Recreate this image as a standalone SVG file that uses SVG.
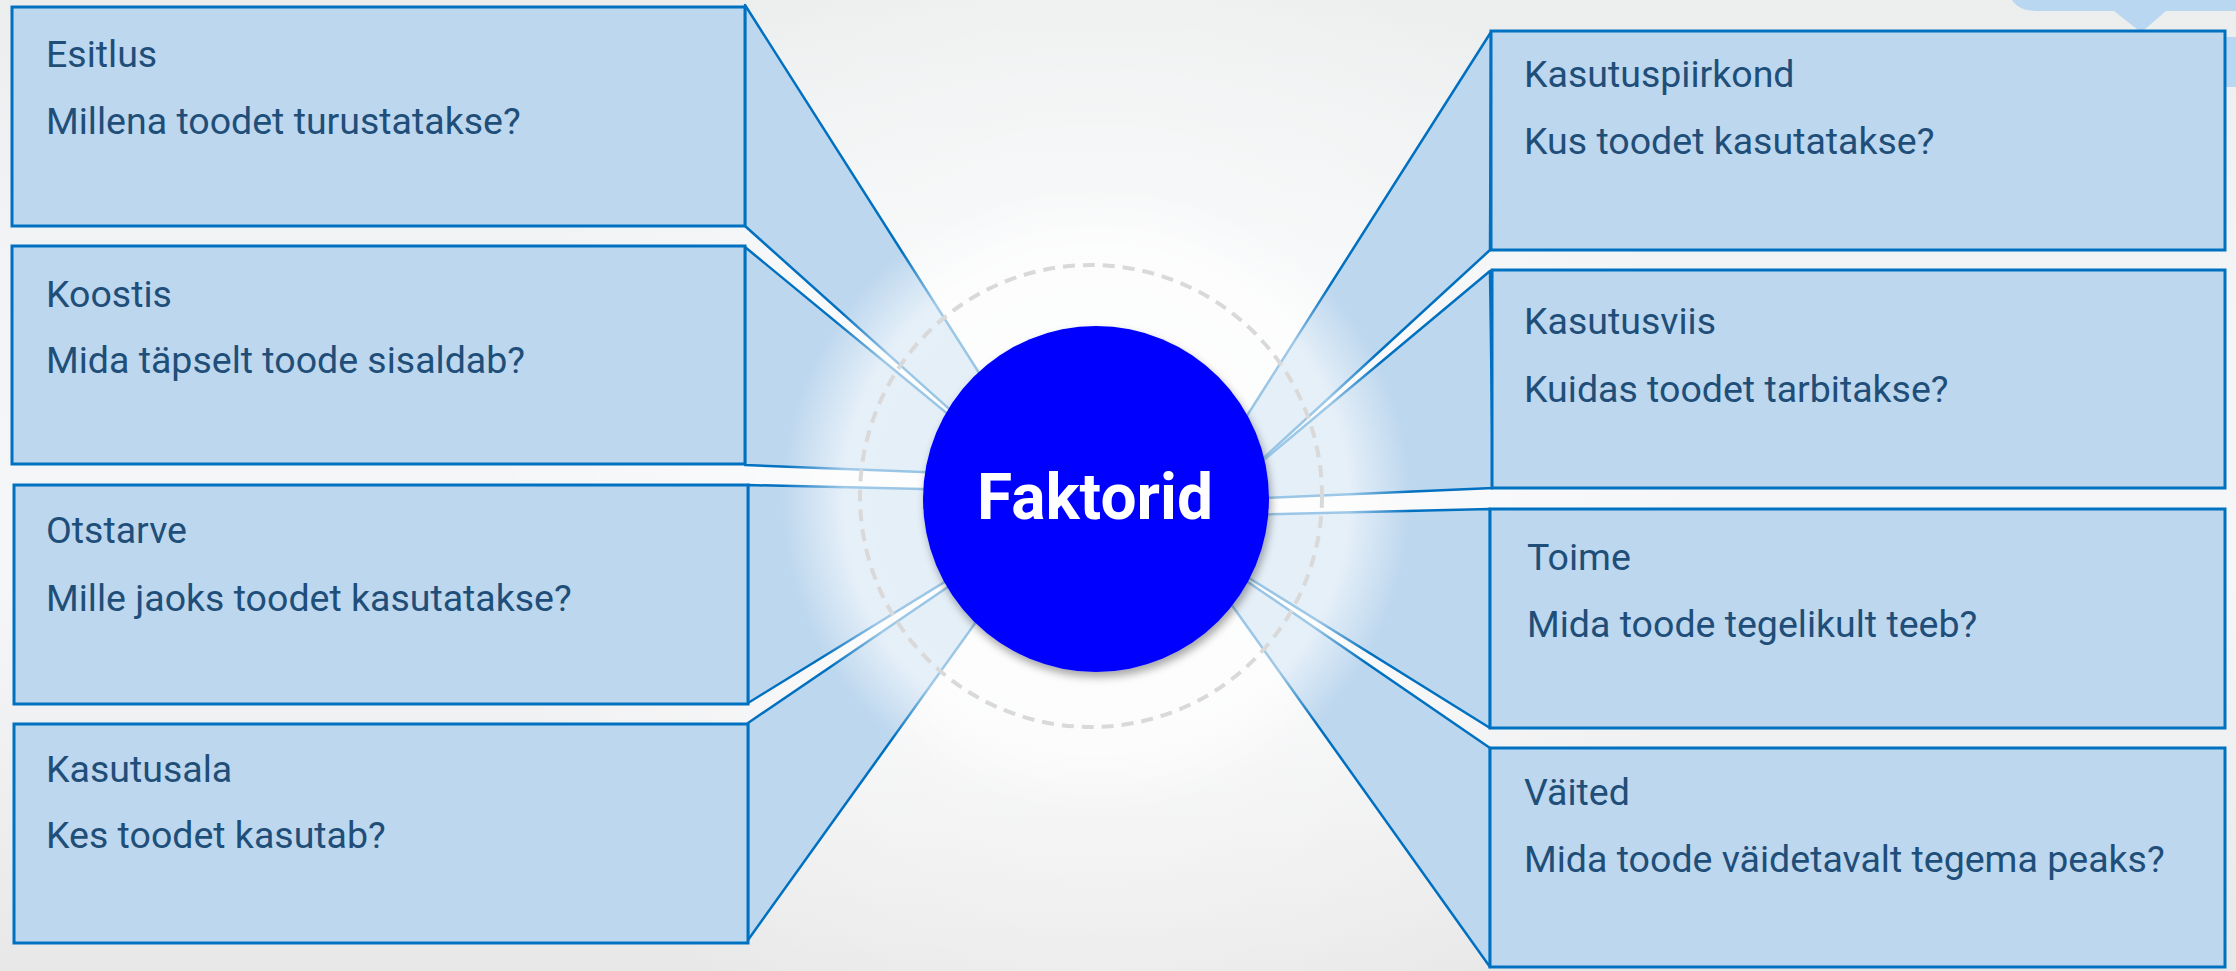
<svg xmlns="http://www.w3.org/2000/svg" width="2236" height="971" viewBox="0 0 2236 971">
  <defs>
    <linearGradient id="bg" x1="0" y1="0" x2="0" y2="1">
      <stop offset="0" stop-color="#eceeee"/>
      <stop offset="0.35" stop-color="#f3f5f7"/>
      <stop offset="0.6" stop-color="#f5f6f8"/>
      <stop offset="1" stop-color="#e8e8e8"/>
    </linearGradient>
    <radialGradient id="soft" cx="1096" cy="499" r="620" gradientUnits="userSpaceOnUse">
      <stop offset="0" stop-color="#ffffff" stop-opacity="0.8"/>
      <stop offset="0.6" stop-color="#ffffff" stop-opacity="0.35"/>
      <stop offset="1" stop-color="#ffffff" stop-opacity="0"/>
    </radialGradient>
    <radialGradient id="glow" cx="1096" cy="499" r="315" gradientUnits="userSpaceOnUse">
      <stop offset="0" stop-color="#ffffff" stop-opacity="0.55"/>
      <stop offset="0.8" stop-color="#ffffff" stop-opacity="0.62"/>
      <stop offset="1" stop-color="#ffffff" stop-opacity="0"/>
    </radialGradient>
    <filter id="shadow" x="-20%" y="-20%" width="140%" height="150%">
      <feDropShadow dx="2" dy="5" stdDeviation="4" flood-color="#000000" flood-opacity="0.35"/>
    </filter>
  </defs>
  <style>
    .box { fill: #bdd7ee; stroke: #0070c0; stroke-width: 3; }
    .wedge { fill: #bdd7ee; stroke: #0070c0; stroke-width: 2.5; stroke-linejoin: round; }
    .title, .q { font-family: Roboto, "Liberation Sans", sans-serif; font-size: 37.5px; fill: #1f4e79; }
    .center { font-family: Roboto, "Liberation Sans", sans-serif; font-size: 64px; font-weight: bold; fill: #ffffff; }
    .deco { fill: #b9d7f0; }
  </style>

  <rect x="0" y="0" width="2236" height="971" fill="url(#bg)"/>
  <rect x="0" y="0" width="2236" height="971" fill="url(#soft)"/>

  <g id="decoration">
    <path class="deco" d="M2012,0 C2018,9 2026,11 2040,11 L2114,11 L2138,30 L2144,30 L2166,11 L2236,11 L2236,0 Z"/>
    <rect class="deco" x="2226" y="37" width="10" height="50"/>
  </g>

  <g id="connectors">
    <polygon class="wedge" points="745,5 1072,519 745,226"/>
    <polygon class="wedge" points="745,247 1023,476 745,465"/>
    <polygon class="wedge" points="748,485 1089,493 748,703"/>
    <polygon class="wedge" points="748,723 1052,516 748,940"/>
    <polygon class="wedge" points="1491,32 1159,554 1490,250"/>
    <polygon class="wedge" points="1490,271 1216,500 1493,488"/>
    <polygon class="wedge" points="1490,509 1151,517 1490,728"/>
    <polygon class="wedge" points="1490,748 1184,538 1490,967"/>
  </g>

  <circle cx="1096" cy="499" r="315" fill="url(#glow)"/>
  <circle cx="1091" cy="496" r="231" fill="none" stroke="#d9d9d9" stroke-width="4" stroke-dasharray="12 8"/>

  <g id="node-esitlus">
    <rect class="box" x="12" y="7" width="733" height="219"/>
    <text class="title" x="46" y="67">Esitlus</text>
    <text class="q" x="46" y="134">Millena toodet turustatakse?</text>
  </g>
  <g id="node-koostis">
    <rect class="box" x="12" y="246" width="733" height="218"/>
    <text class="title" x="46" y="307">Koostis</text>
    <text class="q" x="46" y="373">Mida täpselt toode sisaldab?</text>
  </g>
  <g id="node-otstarve">
    <rect class="box" x="14" y="485" width="734" height="219"/>
    <text class="title" x="46" y="543">Otstarve</text>
    <text class="q" x="46" y="611">Mille jaoks toodet kasutatakse?</text>
  </g>
  <g id="node-kasutusala">
    <rect class="box" x="14" y="724" width="734" height="219"/>
    <text class="title" x="46" y="782">Kasutusala</text>
    <text class="q" x="46" y="848">Kes toodet kasutab?</text>
  </g>
  <g id="node-kasutuspiirkond">
    <rect class="box" x="1491" y="31" width="734" height="219"/>
    <text class="title" x="1524" y="87">Kasutuspiirkond</text>
    <text class="q" x="1524" y="154">Kus toodet kasutatakse?</text>
  </g>
  <g id="node-kasutusviis">
    <rect class="box" x="1492" y="270" width="733" height="218"/>
    <text class="title" x="1524" y="334">Kasutusviis</text>
    <text class="q" x="1524" y="402">Kuidas toodet tarbitakse?</text>
  </g>
  <g id="node-toime">
    <rect class="box" x="1490" y="509" width="735" height="219"/>
    <text class="title" x="1527" y="570">Toime</text>
    <text class="q" x="1527" y="637">Mida toode tegelikult teeb?</text>
  </g>
  <g id="node-vaited">
    <rect class="box" x="1490" y="748" width="735" height="219"/>
    <text class="title" x="1524" y="805">Väited</text>
    <text class="q" x="1524" y="872">Mida toode väidetavalt tegema peaks?</text>
  </g>

  <g id="node-faktorid">
    <circle cx="1096" cy="499" r="173" fill="#0000ff" filter="url(#shadow)"/>
    <text class="center" x="1095" y="519" text-anchor="middle">Faktorid</text>
  </g>
</svg>
